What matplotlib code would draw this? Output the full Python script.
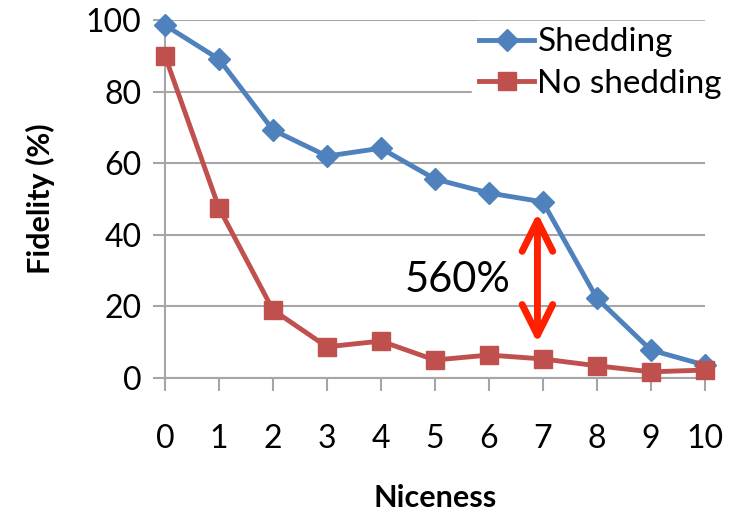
import matplotlib
matplotlib.use('Agg')
import matplotlib.pyplot as plt

niceness = [0, 1, 2, 3, 4, 5, 6, 7, 8, 9, 10]
shedding = [98.6, 89.1, 69.3, 62.0, 64.2, 55.6, 51.7, 49.2, 22.3, 7.8, 3.6]
no_shedding = [90.0, 47.5, 19.0, 8.7, 10.3, 5.0, 6.4, 5.3, 3.4, 1.7, 2.2]
yticks = [0, 20, 40, 60, 80, 100]
gain_label = '560%'

plt.rcParams['font.family'] = ['Lato', 'DejaVu Sans']

fig = plt.figure(figsize=(7.45, 5.17), dpi=100)
ax = fig.add_axes([0.2215, 0.269, 0.7245, 0.692])

ax.plot(niceness, shedding, color='#4F81BD', lw=3.5, marker='D', ms=11,
        label='Shedding', clip_on=False, zorder=3)
ax.plot(niceness, no_shedding, color='#C0504D', lw=3.5, marker='s', ms=13,
        label='No shedding', clip_on=False, zorder=4)

ax.set_xlim(0, 10)
ax.set_ylim(0, 100)
ax.set_xticks(niceness)
ax.set_yticks(yticks)
ax.yaxis.grid(True, color='#A6A6A6', lw=1.5)
ax.set_axisbelow(True)

for s in ['top', 'right']:
    ax.spines[s].set_visible(False)
for s in ['left', 'bottom']:
    ax.spines[s].set_color('#A6A6A6')
    ax.spines[s].set_linewidth(1.5)
ax.tick_params(axis='both', colors='#A6A6A6', width=1.5, length=9,
               labelsize=23, labelcolor='black')
ax.tick_params(axis='x', pad=24)
ax.tick_params(axis='y', pad=8)

ax.set_xlabel('Niceness', fontsize=22, fontweight='bold', labelpad=22)
ax.set_ylabel('Fidelity (%)', fontsize=22, fontweight='bold', labelpad=22)

# double arrow between the two curves at niceness 7
ax.annotate('', xy=(6.9, 46.1), xytext=(6.9, 9.8),
            arrowprops=dict(arrowstyle='<->,head_length=2.2,head_width=1.1',
                            color='#FF2000', lw=5, shrinkA=0, shrinkB=0))
ax.text(5.43, 27.4, gain_label, fontsize=30, ha='center', va='center')

leg = ax.legend(loc='upper right', bbox_to_anchor=(1.075, 1.045), frameon=True,
                fontsize=24, handlelength=1.65, handletextpad=0.1,
                labelspacing=0.35, borderpad=0.2)
leg.get_frame().set_edgecolor('white')
leg.get_frame().set_facecolor('white')
leg.get_frame().set_alpha(1)

fig.savefig('out.png', dpi=100)
